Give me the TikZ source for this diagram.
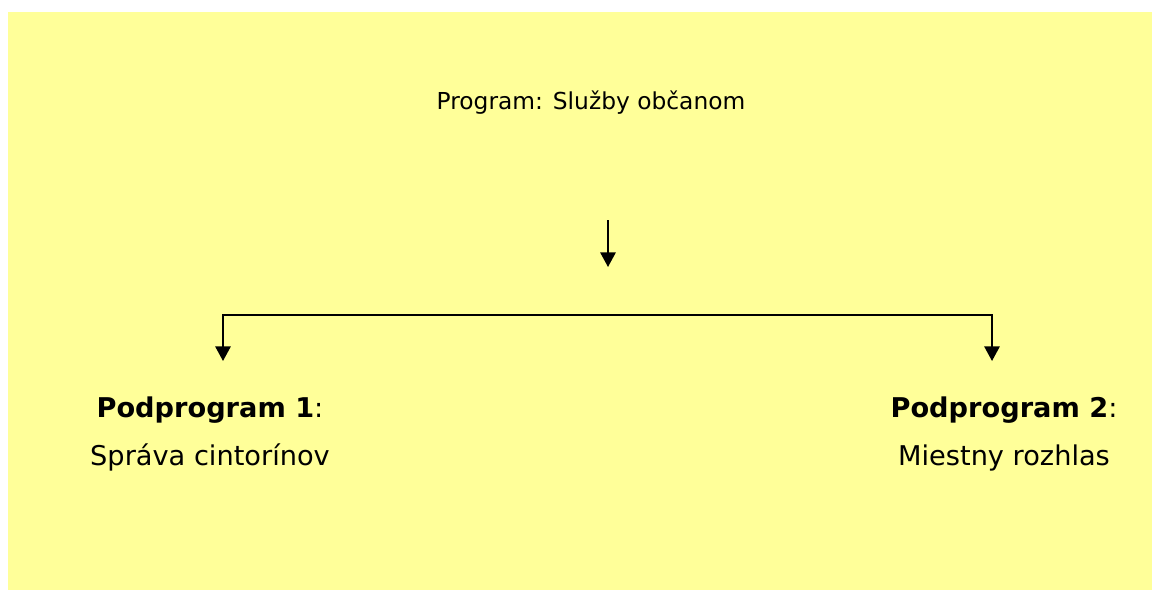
\documentclass[tikz,border=0pt]{standalone}
\usepackage{fontspec}
\setmainfont{DejaVu Sans}
\usetikzlibrary{arrows.meta}
\definecolor{paleyellow}{HTML}{FFFF99}

\begin{document}
\begin{tikzpicture}[x=0.75pt,y=-0.75pt,
  font=\fontsize{17.5}{21}\selectfont,
  sub/.style={align=center,anchor=base,inner sep=0pt,
    font=\fontsize{20.4}{36}\selectfont},
  link/.style={line width=1.5pt,-{Triangle[width=11.5pt,length=11pt]}}]
  \useasboundingbox (0,0) rectangle (1152,590);
  \fill[paleyellow] (8,12) rectangle (1152,590);
  \node[anchor=base,inner sep=0pt] (prog) at (591,109) {Program: Služby občanom};
  \node[sub] (sub1) at (210,465) {\textbf{Podprogram 1}:\\Správa cintorínov};
  \node[sub] (sub2) at (1004,465) {\textbf{Podprogram 2}:\\Miestny rozhlas};
  % connectors
  \coordinate (down1) at (608,220);
  \coordinate (down2) at (608,267);
  \coordinate (fork) at (608,315);
  \coordinate (tip1) at (223,361);
  \coordinate (tip2) at (992,361);
  \draw[link] (down1) -- (down2);
  \draw[link] (fork) -| (tip1);
  \draw[link] (fork) -| (tip2);
\end{tikzpicture}
\end{document}
